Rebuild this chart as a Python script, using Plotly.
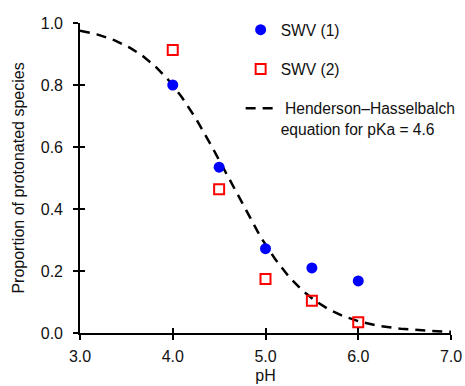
import numpy as np
import plotly.graph_objects as go

ph_points = [4.0, 4.5, 5.0, 5.5, 6.0]
swv1 = [0.80, 0.535, 0.272, 0.21, 0.168]
swv2 = [0.913, 0.464, 0.174, 0.104, 0.035]
pKa = 4.6
ph_curve = np.linspace(3.0, 7.0, 201)
hh_curve = 1.0 / (1.0 + 10 ** (ph_curve - pKa))

x_ticks = [3.0, 4.0, 5.0, 6.0, 7.0]
y_ticks = [0.0, 0.2, 0.4, 0.6, 0.8, 1.0]

FONT = "Arial, Liberation Sans, sans-serif"
TXT = "#111111"

fig = go.Figure()
fig.add_trace(go.Scatter(
    x=ph_curve, y=hh_curve, mode="lines",
    line=dict(color="black", width=2.5, dash="10px,7px"),
    name=" Henderson\u2013Hasselbalch<br>equation for pKa = 4.6",
    legendgroup="c", legendrank=3,
))
fig.add_trace(go.Scatter(
    x=ph_points, y=swv1, mode="markers",
    marker=dict(symbol="circle", size=11, color="#0000ff", line=dict(width=0)),
    name="SWV (1)", legendgroup="a", legendrank=1,
))
fig.add_trace(go.Scatter(
    x=ph_points, y=swv2, mode="markers",
    marker=dict(symbol="square-open", size=10, color="#ff0000", line=dict(width=2)),
    name="SWV (2)", legendgroup="b", legendrank=2,
))
# invisible trace on overlaid axes for inside ticks
fig.add_trace(go.Scatter(x=[3.0], y=[0.0], xaxis="x2", yaxis="y2",
                         mode="markers", marker=dict(opacity=0), showlegend=False,
                         hoverinfo="skip"))

axis_common = dict(showgrid=False, zeroline=False, showline=True, linecolor="black",
                   linewidth=1.6, ticks="outside", ticklen=5, tickwidth=1.6,
                   tickcolor="black", tickfont=dict(family=FONT, size=16, color=TXT),
                   automargin=False)

fig.update_layout(
    width=465, height=386,
    margin=dict(l=80, r=14, t=23, b=53, autoexpand=False),
    paper_bgcolor="white", plot_bgcolor="white",
    font=dict(family=FONT, size=16, color=TXT),
    xaxis=dict(range=[3.0, 7.0], tickvals=x_ticks, ticktext=[f"{v:.1f}" for v in x_ticks],
               ticklabelstandoff=3,
               title=dict(text="pH", standoff=6, font=dict(size=16)), **axis_common),
    yaxis=dict(range=[0.0, 1.0], tickvals=y_ticks, ticktext=[f"{v:.1f}" for v in y_ticks],
               ticklabelstandoff=7,
               title=dict(text="Proportion of protonated species", standoff=12, font=dict(size=16)),
               **axis_common),
    xaxis2=dict(range=[3.0, 7.0], overlaying="x", tickvals=x_ticks, showticklabels=False,
                showgrid=False, zeroline=False, showline=False, ticks="inside", ticklen=5,
                tickwidth=1.6, tickcolor="black", side="bottom"),
    yaxis2=dict(range=[0.0, 1.0], overlaying="y", tickvals=y_ticks, showticklabels=False,
                showgrid=False, zeroline=False, showline=False, ticks="inside", ticklen=5,
                tickwidth=1.6, tickcolor="black", side="left"),
    legend=dict(x=0.433, y=1.032,
                xanchor="left", yanchor="top", bgcolor="rgba(0,0,0,0)",
                borderwidth=0, font=dict(family=FONT, size=15.6, color=TXT),
                tracegroupgap=16, valign="top", traceorder="grouped"),
    showlegend=True,
)

fig.write_html("out.html")
